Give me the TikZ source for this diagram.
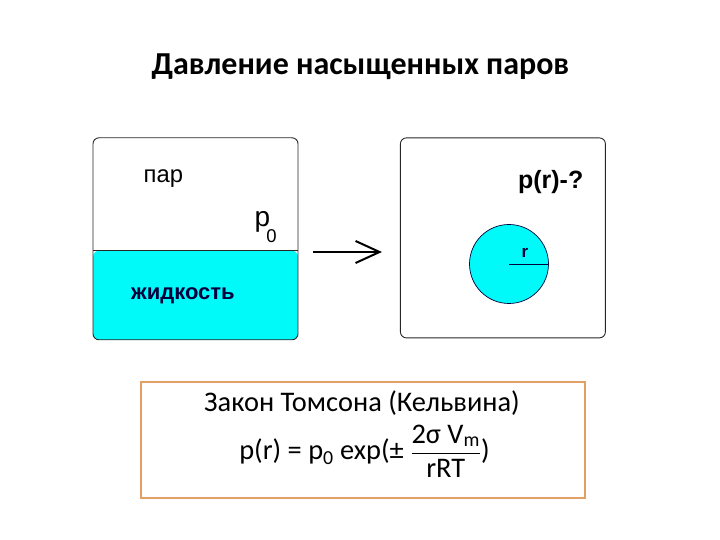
\documentclass[tikz,border=0pt]{standalone}
\usepackage{amsmath}
\usepackage{fontspec}
\setmainfont{Carlito}
\newfontfamily\arialfont{Liberation Sans}
\usetikzlibrary{arrows.meta}
\definecolor{liquidcyan}{RGB}{0,250,250}
\definecolor{inknavy}{RGB}{0,0,60}
\definecolor{lawframe}{RGB}{228,160,100}

\begin{document}
\begin{tikzpicture}[x=1pt,y=1pt,
  vessel/.style={draw=black!85,line width=0.9pt,rounded corners=6pt,minimum width=205pt,minimum height=202pt,inner sep=0pt},
  label/.style={inner sep=0pt,anchor=base west},
  sans/.style={font=\arialfont\fontsize{23.8}{28}\selectfont},
  sansbold/.style={font=\arialfont\bfseries\fontsize{#1}{#1}\selectfont},
  calib/.style={inner sep=0pt,anchor=base,font=\fontsize{28.4}{34}\selectfont}]
  \useasboundingbox (0,0) rectangle (720,540);
  \node[calib,font=\bfseries\fontsize{32}{38}\selectfont] (title) at (360.5,465) {Давление насыщенных паров};
  \node[vessel,path picture={
      \fill[liquidcyan] (path picture bounding box.south west) rectangle ([yshift=89pt]path picture bounding box.south east);
      \draw[line width=0.9pt] ([yshift=89pt]path picture bounding box.south west) -- ([yshift=89pt]path picture bounding box.south east);
    }] (flat) at (195.5,301.2) {};
  \node[vessel,minimum height=200pt] (chamber) at (502.9,302.1) {};
  \coordinate (level) at (93,288);
  \node[label,sans] (vapour) at (143.5,357) {пар};
  \node[label,font=\arialfont\fontsize{28}{32}\selectfont] (psat) at (254.4,313) {p\kern-3.8pt\raisebox{-16pt}{\fontsize{18.5}{22}\selectfont 0}};
  \node[label,sansbold=22,text=inknavy] (liquid) at (131,240) {жидкость};
  \node[circle,draw=inknavy,fill=liquidcyan,line width=0.7pt,minimum size=79pt,inner sep=0pt] (drop) at (509,276) {};
  \draw[inknavy,line width=0.9pt] (drop.center) -- (drop.east);
  \node[label,sansbold=17,text=inknavy] (radius) at (521.5,282) {r};
  \node[inner sep=0pt,anchor=base east,sansbold=25] (question) at (583.5,351) {p(r)-?};
  \draw[line width=2.5pt,shorten <=15pt,shorten >=18pt,-{Straight Barb[length=24pt,width=22pt,line width=2pt]}] (flat.east |- level) -- (chamber.west |- level);
  \node[draw=lawframe,line width=2pt,minimum width=444pt,minimum height=116pt,inner sep=0pt] (law) at (362.9,100) {};
  \node[calib] (lawname) at (362,128) {Закон Томсона (Кельвина)};
  \node[calib] (lawformula) at (364.5,80) {p(r) = p\textsubscript{0} exp(± $\dfrac{\mbox{2σ V\textsubscript{m}}}{\mbox{rRT}}$)};
\end{tikzpicture}
\end{document}
